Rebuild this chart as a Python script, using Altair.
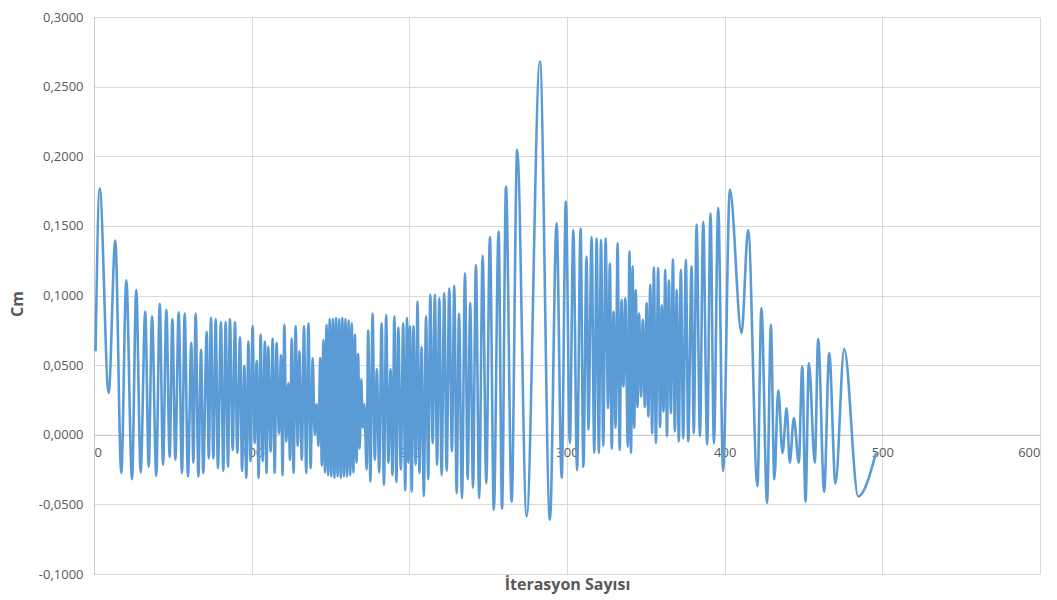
import altair as alt
import pandas as pd

# Iteration numbers of the turning points
ITER = [
    1, 3.6, 9.3, 13.5, 17.3, 20.5, 24.1, 26.8, 29.6, 32.5, 34.7, 36.8, 39.5, 41.7, 43.8,
    45.9, 48.0, 49.7, 51.6, 53.7, 55.8, 57.5, 59.6, 61.7, 63.0, 64.5, 66.2, 67.9, 69.3,
    71.5, 72.8, 74.2, 75.7, 77.2, 78.6, 80.5, 82.0, 83.5, 85.0, 86.2, 88.0, 89.4, 90.9,
    92.6, 93.9, 95.3, 96.6, 97.9, 99.2, 100.6, 101.9, 103.2, 104.4, 105.7, 107.0, 108.4,
    109.4, 110.5, 112.0, 113.3, 114.6, 115.8, 117.3, 118.6, 119.6, 120.7, 122.0, 123.2,
    124.3, 125.4, 126.6, 127.9, 129.2, 130.3, 131.8, 133.2, 134.6, 136.0, 137.4, 138.7,
    140.0, 141.2, 142.3,
    143.5, 144.5, 145.5, 146.5, 147.5, 148.5, 149.5, 150.5, 151.5, 152.5, 153.5, 154.5,
    155.5, 156.5, 157.5, 158.5, 159.5, 160.5, 161.5, 162.5, 163.5, 164.5, 165.5, 166.5,
    167.5, 168.5, 169.5, 170.5, 171.5,
    172.9, 173.9, 175.3, 176.7, 178.1, 179.4, 180.9, 182.4, 183.9, 185.3, 186.7, 188.1,
    189.3, 190.5, 191.8, 193.0, 194.6, 196.1, 197.4, 198.5, 199.4, 200.4, 201.5, 202.6,
    204.0, 205.2, 206.4, 207.8, 209.2, 210.6, 212.0, 213.3, 214.8, 216.2, 217.6, 219.0,
    220.5, 222.1, 223.7, 225.3, 227.0, 228.5, 230.0, 231.5, 233.4, 235.3, 237.0, 238.6,
    240.4, 242.2, 244.3, 246.5, 248.8, 251.1, 253.6, 256.6, 258.8, 261.3, 264.9, 268.4,
    274.4, 282.8, 289.2, 293.4, 296.6, 299.3, 301.8, 304.0, 306.4, 308.6, 310.4, 312.4,
    313.6, 315.6, 317.3, 318.8, 320.2, 321.6, 323.0, 324.5, 326.0, 327.2, 328.4, 329.5,
    330.8, 332.1, 333.4, 334.6, 335.8, 337.0, 338.6, 339.6, 340.6, 341.6, 342.6, 343.6,
    344.7, 345.7, 347.0, 348.1, 349.4, 350.5, 351.6, 352.8, 354.0, 355.1, 356.4, 357.8,
    359.0, 360.1, 361.2, 362.3, 363.4, 364.6, 365.9, 367.2, 368.4, 369.6, 370.9, 372.2,
    373.7, 375.4, 376.9, 379.0, 380.4, 382.2, 384.3, 386.4, 388.9, 391.0, 393.2, 395.9,
    399.0, 403.3, 410.7, 414.9, 420.8, 423.3, 426.9, 429.3, 431.5, 434.0, 436.7, 439.3,
    441.3, 443.9, 447.0, 449.2, 451.3, 453.4, 457.2, 459.3, 463.1, 466.3, 470.3, 475.8,
    484.7, 496.0,
]

# Cm value at each of those points
CM = [
    0.060, 0.177, 0.030, 0.1395, -0.0275, 0.111, -0.032, 0.104, -0.027, 0.0885, -0.023,
    0.085, -0.0295, 0.094, -0.0215, 0.0897, -0.016, 0.083, -0.018, 0.088, -0.0275, 0.087,
    -0.030, 0.066, -0.020, 0.087, -0.030, 0.061, -0.0275, 0.074, -0.017, 0.084, -0.017,
    0.083, -0.024, 0.081, -0.026, 0.081, -0.023, 0.083, -0.011, 0.081, -0.013, 0.070,
    -0.026, 0.0495, -0.031, 0.067, -0.019, 0.078, -0.006, 0.053, -0.031, 0.072, -0.019,
    0.067, -0.0275, 0.063, -0.012, 0.069, -0.0275, 0.066, 0.001, 0.057, -0.029, 0.079,
    -0.005, 0.037, -0.018, 0.069, -0.0275, 0.078, -0.008, 0.060, -0.018, 0.078, -0.0275,
    0.080, -0.024, 0.055, 0.000, 0.022, -0.008,
    0.055, -0.022, 0.068, -0.027, 0.079, -0.029, 0.083, -0.030, 0.083, -0.031, 0.084,
    -0.030, 0.083, -0.031, 0.084, -0.030, 0.083, -0.030, 0.082, -0.029, 0.080, -0.027,
    0.072, -0.020, 0.058, -0.010, 0.040, 0.005, 0.022,
    -0.025, 0.075, -0.0335, 0.087, -0.018, 0.047, -0.027, 0.080, -0.036, 0.086, -0.020,
    0.047, -0.029, 0.085, -0.034, 0.077, -0.025, 0.080, -0.040, 0.084, -0.020, 0.078,
    -0.041, 0.078, -0.0215, 0.0957, -0.0275, 0.063, -0.044, 0.085, -0.032, 0.1005,
    -0.006, 0.1005, -0.0215, 0.098, -0.029, 0.1017, -0.026, 0.105, -0.012, 0.107, -0.042,
    0.087, -0.0455, 0.116, -0.032, 0.0946, -0.038, 0.122, -0.0455, 0.1285, -0.035, 0.142,
    -0.054, 0.146, -0.053, 0.178, -0.048, 0.2046, -0.0587, 0.268, -0.061, 0.152, -0.031,
    0.1675, -0.006, 0.147, -0.0256, 0.148, -0.023, 0.128, 0.0036, 0.142, -0.013, 0.141,
    -0.013, 0.140, -0.008, 0.141, 0.019, 0.123, -0.010, 0.0885, 0.005, 0.1376, -0.011,
    0.097, 0.0347, 0.098, -0.0085, 0.1316, -0.013, 0.121, 0.005, 0.104, 0.020, 0.087,
    0.0275, 0.0826, 0.020, 0.0946, 0.013, 0.1077, 0.001, 0.120, -0.006, 0.1197, 0.0054,
    0.093, 0.0167, 0.1185, -0.001, 0.111, 0.0155, 0.126, 0.0024, 0.104, -0.0048, 0.1185,
    -0.0024, 0.1257, -0.0048, 0.121, 0.001, 0.151, -0.001, 0.153, -0.007, 0.159, -0.006,
    0.163, -0.026, 0.176, 0.073, 0.147, -0.037, 0.091, -0.049, 0.079, -0.032, 0.032,
    -0.013, 0.019, -0.020, 0.012, -0.020, 0.049, -0.048, 0.0515, -0.020, 0.0687, -0.041,
    0.0587, -0.035, 0.0615, -0.0443, -0.013,
]

X_TICKS = [0, 100, 200, 300, 400, 500, 600]
Y_TICKS = [-0.1, -0.05, 0, 0.05, 0.1, 0.15, 0.2, 0.25, 0.3]

df = pd.DataFrame({"iter": ITER, "cm": CM})

W, H = 946, 557
Y_MIN, Y_MAX = -0.1, 0.3
zero_offset = H * (Y_MAX - 0) / (Y_MAX - Y_MIN) - H  # move x axis up to y = 0

GRID = "#D9D9D9"
TXT = "#595959"
FONT = "Open Sans"

chart = (
    alt.Chart(df)
    .mark_line(color="#5B9BD5", strokeWidth=2.6, interpolate="monotone")
    .encode(
        x=alt.X(
            "iter:Q",
            scale=alt.Scale(domain=[0, 600], nice=False, zero=False),
            axis=alt.Axis(
                values=X_TICKS,
                format="d",
                grid=True,
                gridColor=GRID,
                gridWidth=1,
                domainColor="#C8C8C8",
                ticks=False,
                offset=zero_offset,
                labelPadding=12,
                labelFont=FONT,
                labelFontSize=13,
                labelColor=TXT,
                title="İterasyon Sayısı",
                titleFont=FONT,
                titleFontSize=16,
                titleFontWeight="bold",
                titleColor=TXT,
                titleY=-zero_offset + 15,
                titleBaseline="alphabetic",
            ),
        ),
        y=alt.Y(
            "cm:Q",
            scale=alt.Scale(domain=[Y_MIN, Y_MAX], nice=False, zero=False),
            axis=alt.Axis(
                values=Y_TICKS,
                labelExpr="replace(replace(format(datum.value, '.4f'), '.', ','), '\u2212', '-')",
                grid=True,
                gridColor=GRID,
                gridWidth=1,
                domainColor="#C8C8C8",
                ticks=False,
                labelPadding=11,
                labelFont=FONT,
                labelFontSize=13,
                labelColor=TXT,
                title="Cm",
                titleFont=FONT,
                titleFontSize=16,
                titleFontWeight="bold",
                titleColor=TXT,
                titleX=-77,
                titleY=H / 2 + 8,
                titleBaseline="middle",
            ),
        ),
    )
    .properties(
        width=W,
        height=H,
        autosize=alt.AutoSizeParams(type="none"),
        padding={"left": 94, "top": 17, "right": 17, "bottom": 26},
        background="white",
    )
    .configure_view(stroke=None)
)

chart.save("out.html", embed_options={"renderer": "svg", "actions": False})
